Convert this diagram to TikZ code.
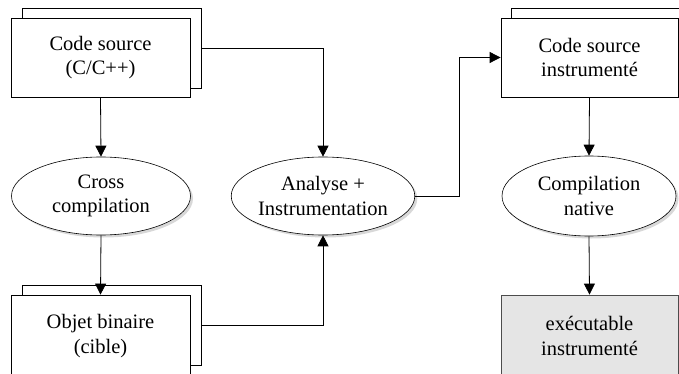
\documentclass[tikz,border=0pt]{standalone}
\usepackage{fontspec}
\setmainfont{Liberation Serif}
\usetikzlibrary{shadows,arrows.meta,shapes.geometric}
\begin{document}
\begin{tikzpicture}[x=1pt,y=-1pt,
  every node/.style={font=\fontsize{20.5}{24.5}\selectfont, align=center, inner sep=0pt},
  doc/.style={draw=black, line width=0.8pt, fill=white, minimum width=179pt, minimum height=79pt},
  docback/.style={draw=black, line width=0.8pt, fill=white, minimum width=179pt, minimum height=80pt},
  proc/.style={ellipse, draw=black, line width=0.6pt, fill=white, minimum width=179pt, minimum height=78pt,
    drop shadow={shadow xshift=2.5pt, shadow yshift=-2.5pt, fill=black!30}},
  res/.style={draw=black!70, line width=0.8pt, fill=black!10, minimum width=177pt, minimum height=82pt},
  conn/.style={draw=black, line width=0.8pt},
  arr/.style={conn, -{Triangle[length=11pt, width=11pt]}}
]
\useasboundingbox (0,0) rectangle (679,374);
\clip (0,0) rectangle (679,374);
% left column
\node[docback] (b1b) at (111.5,48) {};
\node[doc] (b1f) at (100.5,57.5) {Code source\\(C/C++)};
\node[proc] (cross) at (101,196) {Cross\\compilation};
\node[docback] (objb) at (111.5,325) {};
\node[doc, minimum height=82pt] (objf) at (100.5,336) {Objet binaire\\(cible)};
% middle
\node[proc, minimum width=180pt] (ana) at (323,196) {Analyse +\\Instrumentation};
% right column
\node[docback] (b3b) at (601,48) {};
\node[doc, minimum width=177pt] (b3f) at (589.5,57.5) {Code source\\instrumenté};
\node[proc, minimum width=174pt, minimum height=80pt] (nat) at (589,196) {Compilation\\native};
\node[res] (exe) at (589.5,336) {exécutable\\instrumenté};
\coordinate (j) at (459,196);
% connectors
\draw[arr] (b1f.south) -- (cross.north);
\draw[arr] (cross.south) -- (objf.north);
\draw[arr] (b1b.east) -| (ana.north);
\draw[arr] (objb.east) -| (ana.south);
\draw[arr] (ana.east) -- (j) |- (b3f.west);
\draw[arr] (b3f.south) -- (nat.north);
\draw[arr] (nat.south) -- (exe.north);
\end{tikzpicture}
\end{document}
